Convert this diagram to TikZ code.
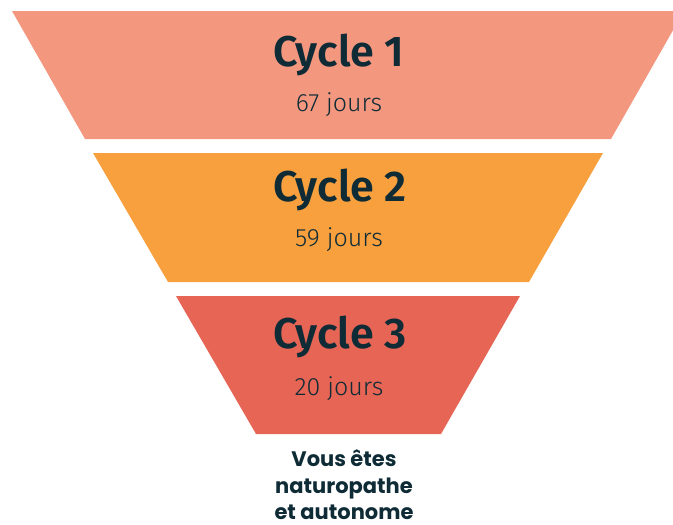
\documentclass[tikz,border=0pt]{standalone}
\usepackage{fontspec}
\setmainfont{Fira Sans}
\newfontfamily\lightfont{Fira Sans Light}
\newfontfamily\midfont{Fira Sans SemiBold}
\newfontfamily\popfont{Poppins}
\definecolor{bandA}{HTML}{F4977F}
\definecolor{bandB}{HTML}{F8A03E}
\definecolor{bandC}{HTML}{E66555}
\definecolor{ink}{HTML}{0E2B36}
\begin{document}
\begin{tikzpicture}[x=1pt,y=-1pt,
  title/.style={anchor=base,text=ink,font=\midfont\fontsize{43}{43}\selectfont,inner sep=0pt},
  days/.style={anchor=base,text=ink,font=\lightfont\fontsize{25}{25}\selectfont,inner sep=0pt},
  final/.style={anchor=base,text=ink,font=\popfont\fontsize{21}{21}\selectfont\bfseries,inner sep=0pt}]
\useasboundingbox (0,0) rectangle (673,525);
\begin{scope}
\clip (0,0) rectangle (673,525);
\fill[bandA] (12,11) -- (684,11) -- (611,139) -- (85,139) -- cycle;
\end{scope}
\fill[bandB] (93,153) -- (603,153) -- (529,282) -- (168,282) -- cycle;
\fill[bandC] (176,296) -- (520,296) -- (441,434) -- (256,434) -- cycle;
\node[title] (t1) at (339,66) {Cycle 1};
\node[days] (d1) at (339,111) {67 jours};
\node[title] (t2) at (340,201) {Cycle 2};
\node[days] (d2) at (339,246) {59 jours};
\node[title] (t3) at (340,348) {Cycle 3};
\node[days] (d3) at (339,395) {20 jours};
\node[final] (f1) at (344,466) {Vous êtes};
\node[final] (f2) at (344,493) {naturopathe};
\node[final] (f3) at (344,519) {et autonome};
\end{tikzpicture}
\end{document}
